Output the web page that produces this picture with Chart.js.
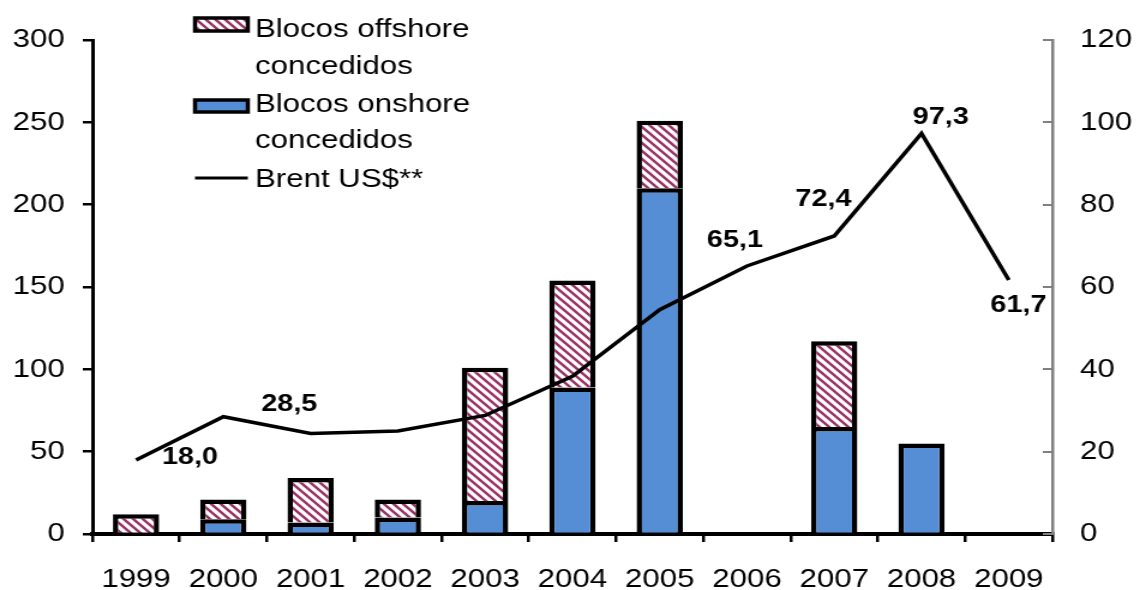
<!DOCTYPE html>
<html>
<head>
<meta charset="utf-8">
<script src="https://cdn.jsdelivr.net/npm/chart.js@4/dist/chart.umd.min.js"></script>
<style>
  html, body { margin: 0; padding: 0; background: #fff; overflow: hidden; }
  /* the chart is laid out narrower and widened, like a pasted spreadsheet chart */
  #wrap { position: absolute; left: 0; top: 0; width: 948px; height: 590px;
          transform: scaleX(1.2); transform-origin: 0 0; }
</style>
</head>
<body>
<div id="wrap"><canvas id="chart"></canvas></div>
<script>
const years = ["1999", "2000", "2001", "2002", "2003", "2004", "2005", "2006", "2007", "2008", "2009"];
const onshore = [0, 9, 7, 10, 20, 89, 210, 0, 65, 55, 0];
const offshore = [12, 12, 27, 11, 81, 65, 41, 0, 52, 0, 0];
const brent = [18.0, 28.5, 24.4, 25.0, 28.8, 38.3, 54.5, 65.1, 72.4, 97.3, 61.7];
const blocosTicks = [0, 50, 100, 150, 200, 250, 300];
const brentTicks = [0, 20, 40, 60, 80, 100, 120];

// where each Brent value label sits relative to its point (null = no label)
const brentLabelOffsets = [[45, -3], [55, -12], null, null, null, null, null,
                           [-10, -26], [-9, -37], [16, -16], [8, 25]];

const FONT = "'Liberation Sans', Arial, sans-serif";
const ONSHORE_BLUE = "#558ED5";
const HATCH_RED = "#993366";

function hatchPattern() {
  const s = 8;
  const c = document.createElement("canvas");
  c.width = s; c.height = s;
  const g = c.getContext("2d");
  g.fillStyle = "#fff";
  g.fillRect(0, 0, s, s);
  g.strokeStyle = HATCH_RED;
  g.lineWidth = 2.4;
  g.beginPath();
  g.moveTo(0, 0); g.lineTo(s, s);
  g.moveTo(-2, s - 2); g.lineTo(2, s + 2);
  g.moveTo(s - 2, -2); g.lineTo(s + 2, 2);
  g.stroke();
  return g.createPattern(c, "repeat");
}

const ctx = document.getElementById("chart").getContext("2d");
const hatch = hatchPattern();

const fmt = v => v.toFixed(1).replace(".", ",");

// legend, Brent value labels and the inward ticks of the right axis
const extras = {
  id: "extras",
  afterDraw(chart) {
    const c = chart.ctx;
    const area = chart.chartArea;

    // right axis tick marks point into the plot
    const y1 = chart.scales.y1;
    c.save();
    c.strokeStyle = "#808080";
    c.lineWidth = 2;
    y1.ticks.forEach(t => {
      const y = Math.round(y1.getPixelForValue(t.value));
      c.beginPath();
      c.moveTo(area.right - 8, y);
      c.lineTo(area.right, y);
      c.stroke();
    });
    c.restore();

    // value labels on the Brent line
    const meta = chart.getDatasetMeta(2);
    c.save();
    c.font = "bold 24px " + FONT;
    c.fillStyle = "#000";
    c.textAlign = "center";
    c.textBaseline = "middle";
    meta.data.forEach((pt, i) => {
      const off = brentLabelOffsets[i];
      if (!off) return;
      c.fillText(fmt(brent[i]), pt.x + off[0], pt.y + off[1]);
    });
    c.restore();

    // legend
    const bx = 162.5, bw = 44, tx = 212.5;
    c.save();
    c.lineWidth = 3.5;
    c.strokeStyle = "#000";
    c.fillStyle = hatch;
    c.fillRect(bx, 18, bw, 13);
    c.strokeRect(bx, 18, bw, 13);
    c.fillStyle = ONSHORE_BLUE;
    c.fillRect(bx, 100, bw, 12);
    c.strokeRect(bx, 100, bw, 12);
    c.lineWidth = 3;
    c.beginPath();
    c.moveTo(bx, 178);
    c.lineTo(bx + bw, 178);
    c.stroke();
    c.font = "26px " + FONT;
    c.fillStyle = "#000";
    c.textAlign = "left";
    c.textBaseline = "alphabetic";
    c.fillText("Blocos offshore", tx, 37);
    c.fillText("concedidos", tx, 74);
    c.fillText("Blocos onshore", tx, 112);
    c.fillText("concedidos", tx, 148);
    c.fillText("Brent US$**", tx, 187);
    c.restore();
  }
};

new Chart(ctx, {
  type: "bar",
  data: {
    labels: years,
    datasets: [
      {
        label: "Blocos onshore concedidos",
        data: onshore,
        backgroundColor: ONSHORE_BLUE,
        borderColor: "#000",
        borderWidth: 4.5,
        stack: "blocos",
        order: 1
      },
      {
        label: "Blocos offshore concedidos",
        data: offshore,
        backgroundColor: hatch,
        borderColor: "#000",
        borderWidth: 4.5,
        stack: "blocos",
        order: 1
      },
      {
        type: "line",
        label: "Brent US$**",
        data: brent,
        yAxisID: "y1",
        borderColor: "#000",
        borderWidth: 3.5,
        pointRadius: 0,
        tension: 0,
        order: 0
      }
    ]
  },
  options: {
    responsive: true,
    maintainAspectRatio: false,
    animation: false,
    layout: { padding: { top: 40, left: 0, right: 0, bottom: 0 } },
    datasets: { bar: { categoryPercentage: 1, barPercentage: 0.53 } },
    plugins: { legend: { display: false }, tooltip: { enabled: false } },
    scales: {
      x: {
        stacked: true,
        afterFit: s => { s.height = 56; },
        grid: { drawOnChartArea: false, drawTicks: true, tickLength: 8, color: "#000", lineWidth: 2.5, offset: true },
        border: { color: "#000", width: 4 },
        ticks: { color: "#000", padding: 22, maxRotation: 0, autoSkip: false, font: { family: FONT, size: 26 } }
      },
      y: {
        stacked: true,
        min: 0,
        max: 300,
        afterFit: s => { s.width = 77; },
        afterBuildTicks: s => { s.ticks = blocosTicks.map(v => ({ value: v })); },
        grid: { drawOnChartArea: false, drawTicks: true, tickLength: 8, color: "#000", lineWidth: 2.5 },
        border: { color: "#000", width: 3 },
        ticks: { color: "#000", padding: 15, font: { family: FONT, size: 26 } }
      },
      y1: {
        position: "right",
        min: 0,
        max: 120,
        afterFit: s => { s.width = 71; },
        afterBuildTicks: s => { s.ticks = brentTicks.map(v => ({ value: v })); },
        grid: { display: false, drawTicks: false },
        border: { color: "#808080", width: 2.5 },
        ticks: { color: "#000", padding: 23, font: { family: FONT, size: 26 } }
      }
    }
  },
  plugins: [extras]
});
</script>
</body>
</html>
